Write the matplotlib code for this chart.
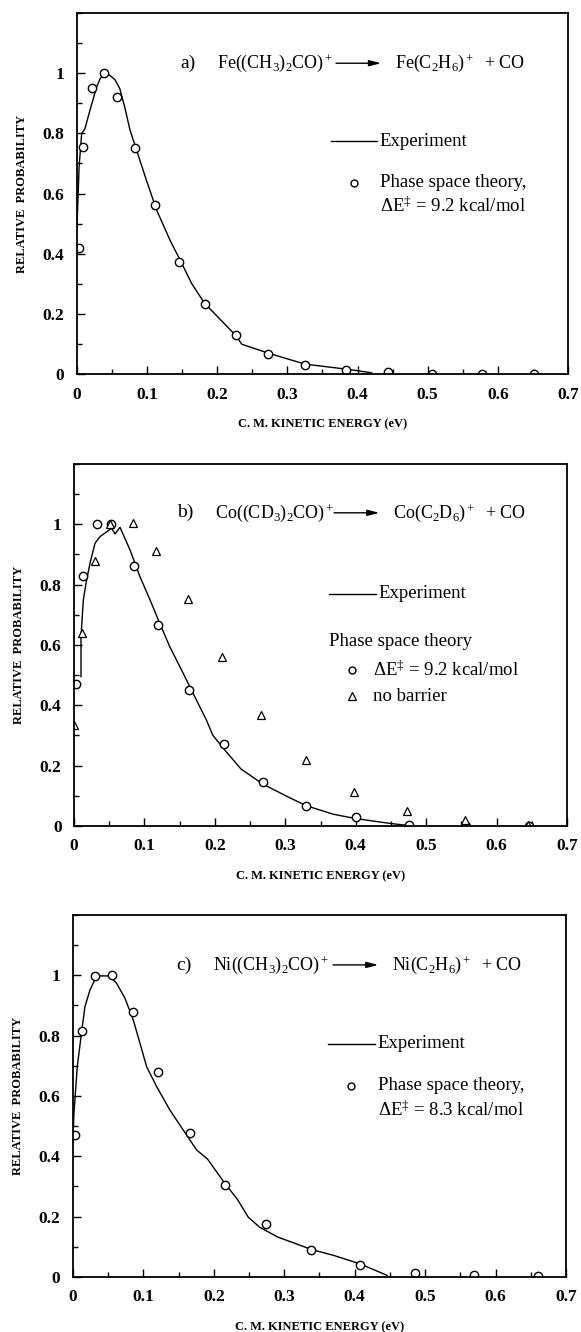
import matplotlib
matplotlib.use('Agg')
import matplotlib.pyplot as plt
from matplotlib.ticker import MultipleLocator, FixedLocator, FuncFormatter

plt.rcParams['font.family'] = ['Liberation Serif', 'DejaVu Serif']
plt.rcParams['mathtext.fontset'] = 'custom'
plt.rcParams['mathtext.rm'] = 'Liberation Serif'
plt.rcParams['mathtext.it'] = 'Liberation Serif:italic'
plt.rcParams['mathtext.bf'] = 'Liberation Serif:bold'

# ---- panel a: Fe((CH3)2CO)+ ----
fe_exp_x = [0.0, 0.003, 0.0067, 0.0114, 0.0185, 0.028, 0.033, 0.041, 0.054, 0.061,
            0.068, 0.0756, 0.085, 0.099, 0.1136, 0.1326, 0.147, 0.1635, 0.182, 0.2265,
            0.235, 0.272, 0.325, 0.383, 0.40, 0.42]
fe_exp_y = [0.489, 0.689, 0.80, 0.816, 0.877, 0.954, 0.982, 1.004, 0.979, 0.949,
            0.888, 0.811, 0.744, 0.644, 0.545, 0.445, 0.379, 0.301, 0.235, 0.128,
            0.099, 0.070, 0.033, 0.0165, 0.011, 0.004]
fe_pst_x = [0.0026, 0.009, 0.021, 0.038, 0.0565, 0.083, 0.111, 0.146, 0.182, 0.2265,
            0.272, 0.325, 0.383, 0.444, 0.506, 0.577, 0.651]
fe_pst_y = [0.418, 0.754, 0.950, 1.0, 0.92, 0.752, 0.561, 0.374, 0.233, 0.130,
            0.066, 0.031, 0.014, 0.0055, 0.0, 0.0, 0.0]

# ---- panel b: Co((CD3)2CO)+ ----
co_exp_x = [0.0099, 0.0099, 0.0132, 0.017, 0.0227, 0.0298, 0.0369, 0.0464, 0.0535, 0.0582,
            0.0653, 0.0795, 0.0937, 0.108, 0.1197, 0.136, 0.155, 0.169, 0.188, 0.197,
            0.2125, 0.237, 0.268, 0.305, 0.330, 0.368, 0.400, 0.447, 0.473, 0.48]
co_exp_y = [0.495, 0.627, 0.749, 0.804, 0.871, 0.937, 0.959, 0.975, 0.987, 0.968,
            0.990, 0.915, 0.826, 0.749, 0.683, 0.594, 0.506, 0.440, 0.351, 0.301,
            0.256, 0.189, 0.139, 0.095, 0.067, 0.039, 0.0245, 0.009, 0.002, 0.0]
co_pst_x = [0.0026, 0.013, 0.0326, 0.0526, 0.085, 0.119, 0.163, 0.2125, 0.268, 0.330,
            0.400, 0.475, 0.556, 0.646]
co_pst_y = [0.470, 0.830, 1.0, 1.0, 0.863, 0.665, 0.451, 0.272, 0.145, 0.065,
            0.030, 0.003, 0.0, 0.0]
co_nb_x = [0.0, 0.0116, 0.0305, 0.0515, 0.084, 0.117, 0.162, 0.2105, 0.266, 0.330,
           0.398, 0.473, 0.555, 0.645]
co_nb_y = [0.334, 0.640, 0.877, 1.0, 1.005, 0.913, 0.752, 0.559, 0.367, 0.220,
           0.114, 0.050, 0.020, 0.002]

# ---- panel c: Ni((CH3)2CO)+ ----
ni_exp_x = [0.0, 0.0014, 0.0061, 0.0123, 0.017, 0.0241, 0.0327, 0.0383, 0.0525, 0.062,
            0.0738, 0.0856, 0.0951, 0.1046, 0.1188, 0.1377, 0.1566, 0.1756, 0.191, 0.216,
            0.233, 0.249, 0.265, 0.291, 0.317, 0.338, 0.370, 0.407, 0.446]
ni_exp_y = [0.454, 0.543, 0.697, 0.813, 0.896, 0.951, 0.993, 0.998, 0.998, 0.973,
            0.924, 0.852, 0.775, 0.697, 0.631, 0.553, 0.487, 0.421, 0.391, 0.309,
            0.259, 0.198, 0.165, 0.132, 0.110, 0.0915, 0.0717, 0.044, 0.0055]
ni_pst_x = [0.0026, 0.013, 0.0316, 0.0558, 0.0847, 0.121, 0.166, 0.216, 0.274, 0.338,
            0.407, 0.485, 0.570, 0.660]
ni_pst_y = [0.471, 0.816, 0.996, 1.0, 0.879, 0.680, 0.477, 0.305, 0.174, 0.088,
            0.039, 0.013, 0.008, 0.002]

x_ticks = [0, 0.1, 0.2, 0.3, 0.4, 0.5, 0.6, 0.7]
y_ticks = [0, 0.2, 0.4, 0.6, 0.8, 1.0]

fig = plt.figure(figsize=(5.81, 13.32), dpi=100)
positions = [[0.1325, 0.7192, 0.845, 0.2710],
             [0.1274, 0.3799, 0.8485, 0.2718],
             [0.1256, 0.0413, 0.8485, 0.2718]]
axes = [fig.add_axes(p) for p in positions]


def style_axis(ax):
    ax.set_xlim(0, 0.7)
    ax.set_ylim(0, 1.2)
    ax.xaxis.set_major_locator(FixedLocator(x_ticks))
    ax.xaxis.set_minor_locator(MultipleLocator(0.05))
    ax.yaxis.set_major_locator(FixedLocator(y_ticks))
    ax.yaxis.set_minor_locator(MultipleLocator(0.1))
    fmt = FuncFormatter(lambda v, p: f'{v:g}')
    ax.xaxis.set_major_formatter(fmt)
    ax.yaxis.set_major_formatter(fmt)
    ax.tick_params(which='both', direction='in', top=False, right=False, width=1.0)
    ax.tick_params(which='major', length=6, labelsize=12.5, pad=9)
    ax.tick_params(which='minor', length=3.5)
    for lab in ax.get_xticklabels() + ax.get_yticklabels():
        lab.set_fontweight('bold')
    for s in ax.spines.values():
        s.set_linewidth(1.3)
    ax.set_xlabel('C. M. KINETIC ENERGY (eV)', fontsize=9, fontweight='bold')
    ax.set_ylabel('RELATIVE  PROBABILITY', fontsize=9, fontweight='bold')
    ax.xaxis.set_label_coords(0.5, -0.122)
    ax.yaxis.set_label_coords(-0.10, 0.5)


def reaction(ax, tag, left, right, y):
    ax.text(0.210, y, tag, transform=ax.transAxes, fontsize=14, va='center')
    ax.text(0.285, y, left, transform=ax.transAxes, fontsize=13, va='center')
    ax.annotate('', xy=(0.625, y), xytext=(0.522, y), xycoords='axes fraction',
                arrowprops=dict(arrowstyle='-|>,head_length=0.7,head_width=0.18',
                                color='black', lw=1.0))
    ax.text(0.648, y, right, transform=ax.transAxes, fontsize=13, va='center')


def exp_key(ax, y):
    ax.plot([0.518, 0.612], [y, y], transform=ax.transAxes, color='black', lw=1.0)
    ax.text(0.617, y, 'Experiment', transform=ax.transAxes, fontsize=13.5, va='center')


for ax in axes:
    style_axis(ax)

# panel a
ax = axes[0]
ax.plot(fe_exp_x, fe_exp_y, color='black', lw=1.0)
ax.plot(fe_pst_x, fe_pst_y, 'o', mfc='white', mec='black', ms=6, mew=1.0)
reaction(ax, 'a)', r'Fe((CH$_3$)$_2$CO)$^+$', r'Fe(C$_2$H$_6$)$^+$  + CO', 0.861)
exp_key(ax, 0.645)
ax.plot([0.564], [0.530], 'o', transform=ax.transAxes, mfc='white', mec='black', ms=5, mew=1.0)
ax.text(0.617, 0.530, 'Phase space theory,', transform=ax.transAxes, fontsize=13.5, va='center')
ax.text(0.617, 0.465, r'ΔE$^{‡}$ = 9.2 kcal/mol', transform=ax.transAxes, fontsize=13.5, va='center')

# panel b
ax = axes[1]
ax.plot(co_exp_x, co_exp_y, color='black', lw=1.0)
ax.plot(co_pst_x, co_pst_y, 'o', mfc='white', mec='black', ms=6, mew=1.0)
ax.plot(co_nb_x, co_nb_y, '^', mfc='white', mec='black', ms=6, mew=0.9)
reaction(ax, 'b)', r'Co((CD$_3$)$_2$CO)$^+$', r'Co(C$_2$D$_6$)$^+$  + CO', 0.865)
exp_key(ax, 0.641)
ax.text(0.517, 0.510, 'Phase space theory', transform=ax.transAxes, fontsize=13.5, va='center')
ax.plot([0.564], [0.431], 'o', transform=ax.transAxes, mfc='white', mec='black', ms=5, mew=1.0)
ax.text(0.606, 0.431, r'ΔE$^{‡}$ = 9.2 kcal/mol', transform=ax.transAxes, fontsize=13.5, va='center')
ax.plot([0.564], [0.359], '^', transform=ax.transAxes, mfc='white', mec='black', ms=5.5, mew=0.9)
ax.text(0.606, 0.359, 'no barrier', transform=ax.transAxes, fontsize=13.5, va='center')

# panel c
ax = axes[2]
ax.plot(ni_exp_x, ni_exp_y, color='black', lw=1.0)
ax.plot(ni_pst_x, ni_pst_y, 'o', mfc='white', mec='black', ms=6, mew=1.0)
reaction(ax, 'c)', r'Ni((CH$_3$)$_2$CO)$^+$', r'Ni(C$_2$H$_6$)$^+$  + CO', 0.862)
exp_key(ax, 0.644)
ax.plot([0.564], [0.528], 'o', transform=ax.transAxes, mfc='white', mec='black', ms=5, mew=1.0)
ax.text(0.619, 0.528, 'Phase space theory,', transform=ax.transAxes, fontsize=13.5, va='center')
ax.text(0.619, 0.461, r'ΔE$^{‡}$ = 8.3 kcal/mol', transform=ax.transAxes, fontsize=13.5, va='center')

fig.savefig('out.png', dpi=100)
